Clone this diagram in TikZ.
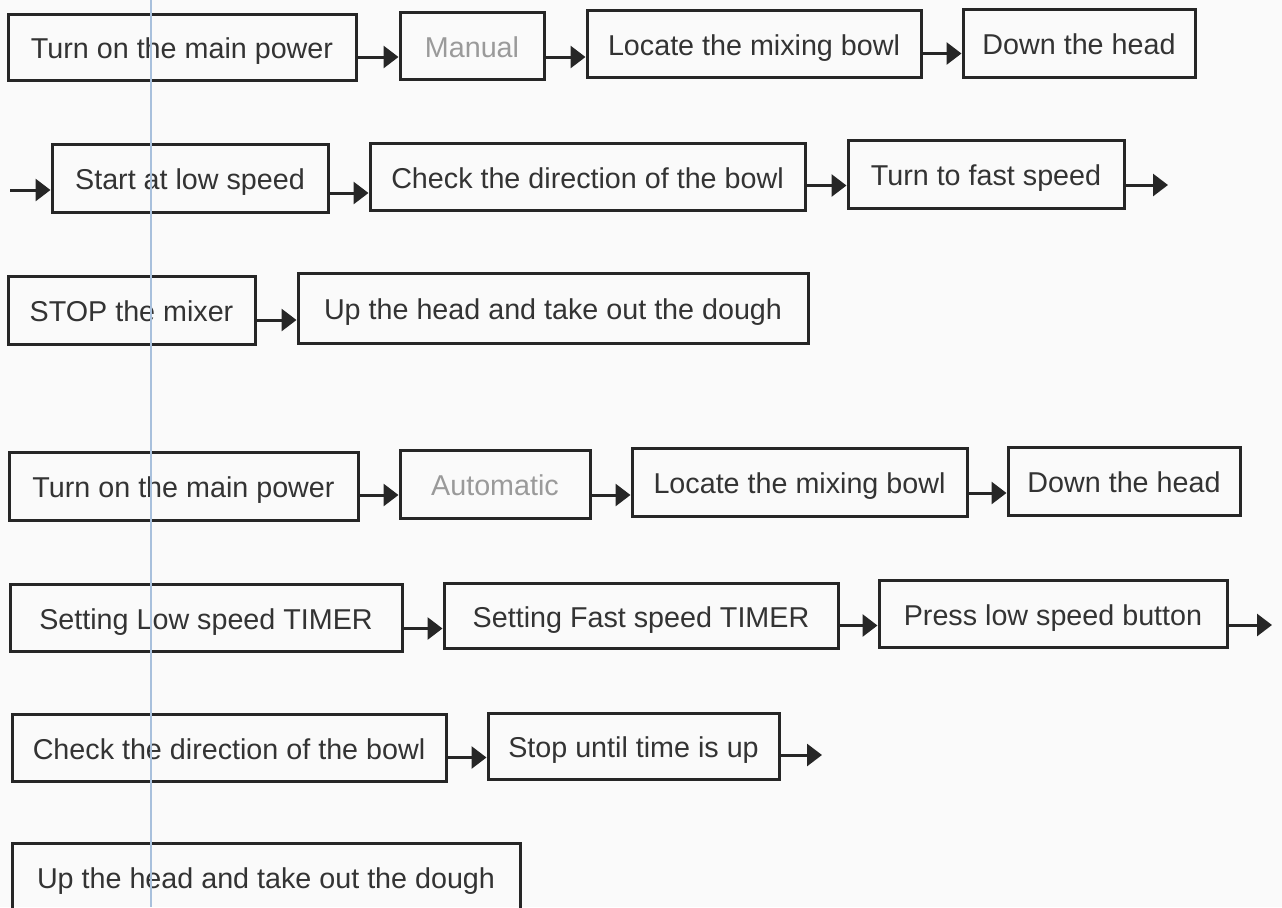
\documentclass[tikz,border=0pt]{standalone}
\usepackage{fontspec}
\setmainfont{Liberation Sans}
\usepackage{tikz}
\usetikzlibrary{arrows.meta, positioning}
\definecolor{ink}{HTML}{262626}
\definecolor{txt}{HTML}{333333}
\definecolor{pale}{HTML}{9A9A9A}
\definecolor{paper}{HTML}{FAFAFA}
\definecolor{rule}{HTML}{A8C0DC}
\tikzstyle{stepbox}=[draw=ink, line width=1.5pt, text=txt, inner sep=0pt,
    text height=13.2pt, text depth=1.7pt,
    font=\fontsize{14.35}{17}\selectfont]
\tikzstyle{flow}=[draw=ink, line width=1.5pt, -{Triangle[length=7.5pt,width=11pt]}]
\newcommand{\stepbox}{\node[stepbox]}

\begin{document}
\begin{tikzpicture}[x=0.5pt, y=-0.5pt,
            every edge/.style={flow}
        ]
    \useasboundingbox (0,0) rectangle (1282,907);
    \clip (0,0) rectangle (1282,907);
    \fill[paper] (0,0) rectangle (1282,907);

    % manual
    \stepbox (a1) at (182,47) [minimum width=174pt, minimum height=33pt]{Turn on the main power};
    \stepbox (a2) at (472,46) [minimum width=72pt, minimum height=33.5pt, text=pale]{Manual};
    \stepbox (a3) at (754,43.5) [minimum width=167pt, minimum height=33.5pt]{Locate the mixing bowl};
    \stepbox (a4) at (1079,43) [minimum width=116pt, minimum height=34pt]{Down the head};

    \coordinate (b0) at (10,190);
    \stepbox (b1) at (190,178) [minimum width=138pt, minimum height=34pt]{Start at low speed};
    \stepbox (b2) at (587.5,176.5) [minimum width=217.5pt, minimum height=33.5pt]{Check the direction of the bowl};
    \stepbox (b3) at (986,174) [minimum width=138pt, minimum height=34pt]{Turn to fast speed};
    \coordinate (b4) at (1168,185);

    \stepbox (c1) at (131.5,310) [minimum width=123.5pt, minimum height=34pt]{STOP the mixer};
    \stepbox (c2) at (553,308) [minimum width=255pt, minimum height=35pt]{Up the head and take out the dough};

    % automatic
    \stepbox (d1) at (183.5,486) [minimum width=174.5pt, minimum height=34pt]{Turn on the main power};
    \stepbox (d2) at (495,484) [minimum width=95pt, minimum height=34pt, text=pale]{Automatic};
    \stepbox (d3) at (799.5,482) [minimum width=167.5pt, minimum height=34pt]{Locate the mixing bowl};
    \stepbox (d4) at (1124,481) [minimum width=116pt, minimum height=34pt]{Down the head};

    \stepbox (e1) at (206,617.5) [minimum width=196pt, minimum height=33.5pt]{Setting Low speed TIMER};
    \stepbox (e2) at (641,615.5) [minimum width=197pt, minimum height=32.5pt]{Setting Fast speed TIMER};
    \stepbox (e3) at (1053,613.5) [minimum width=174pt, minimum height=33.5pt]{Press low speed button};
    \coordinate (e4) at (1272,625);

    \stepbox (f1) at (229,747.5) [minimum width=217pt, minimum height=33.5pt]{Check the direction of the bowl};
    \stepbox (f2) at (633.5,746) [minimum width=145.5pt, minimum height=33pt]{Stop until time is up};
    \coordinate (f3) at (822,755);

    \stepbox (g1) at (266,877) [minimum width=254pt, minimum height=34pt]{Up the head and take out the dough};

    \path
        ([yshift=-5pt]a1.east) edge ([yshift=-5pt]a1.east -| a2.west)
        ([yshift=-5.5pt]a2.east) edge ([yshift=-5.5pt]a2.east -| a3.west)
        ([yshift=-5pt]a3.east) edge ([yshift=-5pt]a3.east -| a4.west)

        (b0) edge (b0 -| b1.west)
        ([yshift=-7.5pt]b1.east) edge ([yshift=-7.5pt]b1.east -| b2.west)
        ([yshift=-4.5pt]b2.east) edge ([yshift=-4.5pt]b2.east -| b3.west)
        (b4 -| b3.east) edge (b4)

        ([yshift=-5pt]c1.east) edge ([yshift=-5pt]c1.east -| c2.west)

        ([yshift=-4.5pt]d1.east) edge ([yshift=-4.5pt]d1.east -| d2.west)
        ([yshift=-5.5pt]d2.east) edge ([yshift=-5.5pt]d2.east -| d3.west)
        ([yshift=-5.5pt]d3.east) edge ([yshift=-5.5pt]d3.east -| d4.west)

        ([yshift=-5.5pt]e1.east) edge ([yshift=-5.5pt]e1.east -| e2.west)
        ([yshift=-5pt]e2.east) edge ([yshift=-5pt]e2.east -| e3.west)
        (e4 -| e3.east) edge (e4)

        ([yshift=-5pt]f1.east) edge ([yshift=-5pt]f1.east -| f2.west)
        (f3 -| f2.east) edge (f3)
    ;

    % ruled margin line of the scan
    \draw[rule, line width=0.7pt] (151,0) -- (151,907);
\end{tikzpicture}
\end{document}
